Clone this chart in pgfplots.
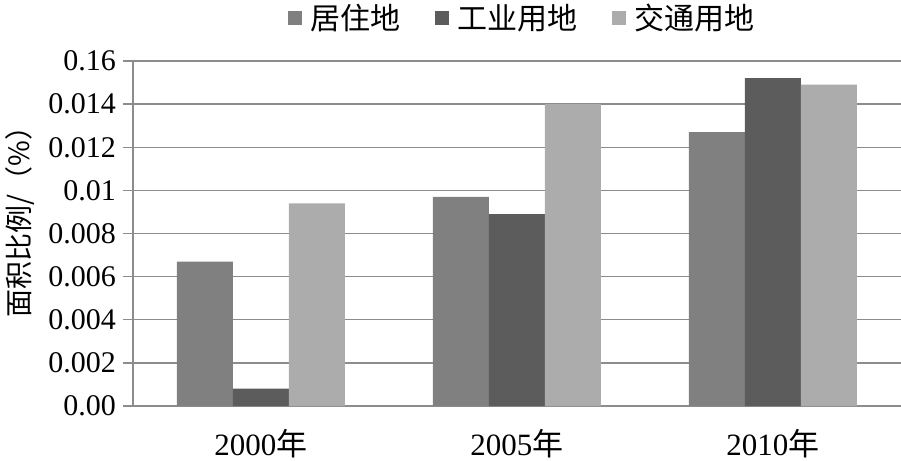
\documentclass[border=0pt]{standalone}
\usepackage{pgfplots}
\pgfplotsset{compat=1.18}
\usepackage{fontspec}
\setmainfont{Liberation Serif}
\newfontfamily\cjk{Noto Sans CJK SC}
\definecolor{juzhu}{RGB}{128,128,128}
\definecolor{gongye}{RGB}{92,92,92}
\definecolor{jiaotong}{RGB}{172,172,172}
\definecolor{gridc}{RGB}{140,140,140}
\pgfplotsset{sq/.style={legend image code/.code={\fill[##1] (0pt,-3.5pt) rectangle (7pt,3.5pt);}}}

\begin{document}
\begin{tikzpicture}
\begin{axis}[
    name=ax,
    scale only axis,
    width=384pt, height=172.5pt,
    ybar=0pt, bar width=28pt,
    xmin=-0.5, xmax=2.5,
    ymin=0, ymax=0.016,
    xtick={0,1,2},
    xticklabels={2000{\cjk 年},2005{\cjk 年},2010{\cjk 年}},
    major x tick style={draw=none},
    xticklabel style={font=\fontsize{15.5}{18}\selectfont, yshift=-3pt},
    ytick={0,0.002,0.004,0.006,0.008,0.01,0.012,0.014,0.016},
    yticklabels={0.00,0.002,0.004,0.006,0.008,0.01,0.012,0.014,0.16},
    scaled y ticks=false,
    yticklabel style={font=\fontsize{15}{18}\selectfont},
    ymajorgrids,
    grid style={gridc, line width=0.7pt},
    axis line style={gridc, line width=0.7pt},
    axis x line*=bottom, axis y line*=left,
    tick align=outside,
    major tick length=5pt,
    ytick style={gridc, line width=0.7pt},
    ylabel={\cjk 面积比例/（\%）},
    ylabel style={font=\fontsize{14}{16}\selectfont, at={(axis description cs:-0.147,0.554)}, anchor=center},
    legend style={
        at={(0.508,1)}, anchor=center, yshift=21.5pt,
        draw=none, fill=none,
        legend columns=-1,
        font=\fontsize{15}{18}\selectfont\cjk,
        /tikz/every even column/.append style={column sep=15pt},
    },
]
\addplot[fill=juzhu, draw=none, sq] coordinates {(0,0.0067) (1,0.0097) (2,0.0127)};
\addlegendentry{\hspace{2.5pt}居住地}
\addplot[fill=gongye, draw=none, sq] coordinates {(0,0.0008) (1,0.0089) (2,0.0152)};
\addlegendentry{\hspace{2.5pt}工业用地}
\addplot[fill=jiaotong, draw=none, sq] coordinates {(0,0.0094) (1,0.0140) (2,0.0149)};
\addlegendentry{\hspace{2.5pt}交通用地}
\end{axis}
\pgfresetboundingbox
\path[use as bounding box] ([xshift=-66.5pt,yshift=-27.5pt]ax.south west) rectangle ([yshift=30.5pt]ax.north east);
\end{tikzpicture}
\end{document}
